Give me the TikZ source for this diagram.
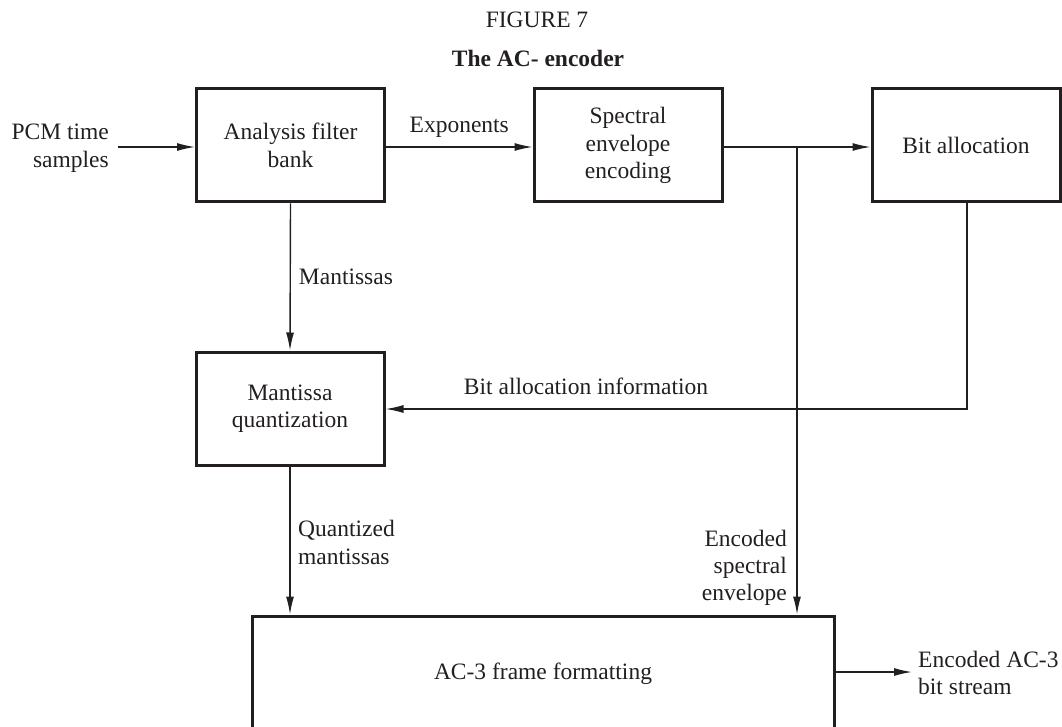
\documentclass[tikz,border=0pt]{standalone}
\usepackage{fontspec}
\setmainfont{Liberation Serif}
\usetikzlibrary{arrows.meta,calc}
\definecolor{ink}{HTML}{231F20}
\begin{document}
\begin{tikzpicture}[x=1pt,y=-1pt,
  every node/.style={text=ink,font=\fontsize{23.5}{27.5}\selectfont},
  blockbox/.style={draw=ink,line width=3pt,minimum width=188pt,minimum height=113pt,align=center,inner sep=0pt},
  conn/.style={draw=ink,line width=1.4pt},
  arr/.style={conn,-{Latex[length=18pt,width=8pt]}},
  lbl/.style={inner sep=0pt}]
\useasboundingbox (0,0) rectangle (1062,727);
\clip (0,0) rectangle (1062,727);
% title
\node[lbl] (fig) at (537,20) {FIGURE 7};
\node[lbl,font=\fontsize{23.5}{27.5}\selectfont\bfseries] (ttl) at (538,58) {The AC- encoder};
% blocks
\node[blockbox] (afb) at (290.5,145.5) {Analysis filter\\bank};
\node[blockbox] (see) at (628,145.5) {Spectral\\envelope\\encoding};
\node[blockbox] (ba) at (966,145.5) {Bit allocation};
\node[blockbox] (mq) at (290,408.5) {Mantissa\\quantization};
\node[blockbox,minimum width=582pt,minimum height=116pt] (ac3) at (543,674) {AC-3 frame formatting};
% input
\node[lbl,align=right,anchor=east] (pcm) at (109,148) {PCM time\\samples};
\coordinate (pin) at (118,147);
\draw[arr] (pin) -- (pin -| afb.west);
% exponents
\draw[arr] (afb.east |- 0,147) -- (see.west |- 0,147) node[lbl,midway,above=9pt] (exp) {Exponents};
% spectral -> bit allocation with branch
\coordinate (br) at (797,147);
\draw[conn] (see.east |- br) -- (br);
\draw[arr] (br) -- (br -| ba.west);
\draw[arr] (br) -- (br |- ac3.north);
% mantissas
\draw[arr] (afb.south) -- (mq.north) node[lbl,midway,right=8pt] (man) {Mantissas};
% bit allocation information
\coordinate (bc) at (967,409);
\draw[arr] (ba.south -| bc) -- (bc) -- (bc -| mq.east);
\node[lbl] (bai) at (586,386) {Bit allocation information};
% quantized mantissas
\draw[arr] (mq.south) -- (mq.south |- ac3.north);
\node[lbl,align=left,anchor=west,font=\fontsize{23.5}{28}\selectfont] (qm) at (298,542) {Quantized\\mantissas};
% encoded spectral envelope
\node[lbl,align=right,anchor=east,font=\fontsize{23.5}{27}\selectfont] (ese) at (787,568) {Encoded\\spectral\\envelope};
% output
\coordinate (out) at (912,672);
\draw[arr] (ac3.east |- out) -- (out);
\node[lbl,align=left,anchor=west,font=\fontsize{23.5}{27}\selectfont] (obs) at (918,673) {Encoded AC-3\\bit stream};
\end{tikzpicture}
\end{document}
